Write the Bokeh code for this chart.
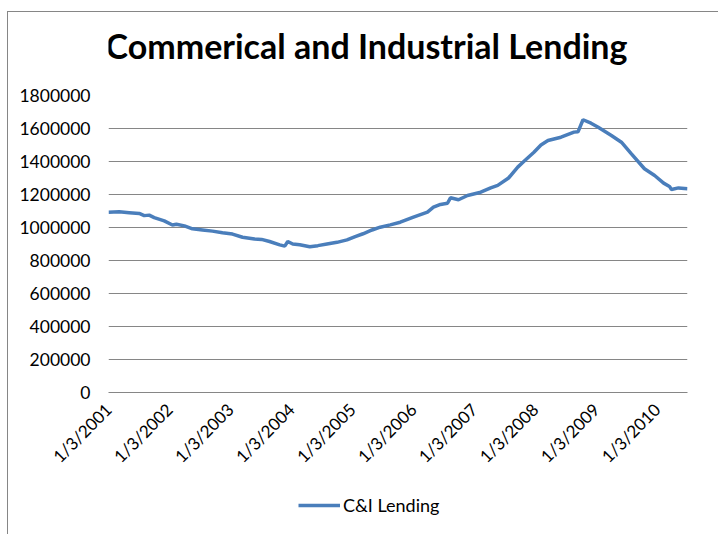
from math import pi
import pandas as pd
from bokeh.plotting import figure
from bokeh.layouts import column
from bokeh.models import Range1d, FixedTicker, Label, Legend, LegendItem, BasicTickFormatter
from bokeh.embed import file_html
from bokeh.resources import INLINE

title_text = "Commerical and Industrial Lending"
series_name = "C&I Lending"

dates = [
    "2001-01-03", "2001-03-08", "2001-05-07", "2001-07-06", "2001-08-05", "2001-09-04",
    "2001-10-04", "2001-12-03", "2002-01-21", "2002-02-14", "2002-04-03", "2002-05-21",
    "2002-07-20", "2002-09-18", "2002-11-17", "2003-01-16", "2003-03-17", "2003-05-28",
    "2003-07-09", "2003-08-26", "2003-10-26", "2003-11-25", "2003-12-13", "2004-01-12",
    "2004-02-23", "2004-04-23", "2004-06-10", "2004-08-04", "2004-10-03", "2004-12-02",
    "2005-01-20", "2005-03-08", "2005-05-01", "2005-06-19", "2005-08-18", "2005-10-17",
    "2006-01-04", "2006-03-29", "2006-05-04", "2006-06-15", "2006-07-27", "2006-08-14",
    "2006-10-01", "2006-11-24", "2007-02-11", "2007-04-12", "2007-05-24", "2007-07-28",
    "2007-09-21", "2007-10-27", "2007-12-27", "2008-02-07", "2008-03-20", "2008-06-06",
    "2008-08-23", "2008-09-16", "2008-10-16", "2008-12-03", "2009-01-15", "2009-04-04",
    "2009-06-03", "2009-08-02", "2009-10-19", "2009-12-19", "2010-02-11", "2010-03-18",
    "2010-03-30", "2010-05-11", "2010-07-04",
]
values = [
    1093000, 1095000, 1090000, 1085000, 1072000, 1075000,
    1060000, 1040000, 1015000, 1020000, 1010000, 992000,
    985000, 978000, 968000, 960000, 941000, 930000,
    928000, 915000, 895000, 887000, 915000, 900000,
    895000, 883000, 890000, 900000, 910000, 925000,
    945000, 962000, 985000, 1002000, 1016000, 1032000,
    1063000, 1093000, 1123000, 1140000, 1147000, 1180000,
    1168000, 1194000, 1214000, 1240000, 1255000, 1300000,
    1366000, 1400000, 1456000, 1500000, 1527000, 1547000,
    1578000, 1580000, 1653000, 1632000, 1608000, 1558000,
    1517000, 1446000, 1356000, 1315000, 1269000, 1249000,
    1230000, 1240000, 1235000,
]

tick_dates = ["2001-01-03", "2002-01-03", "2003-01-03", "2004-01-03", "2005-01-03",
              "2006-01-03", "2007-01-03", "2008-01-03", "2009-01-03", "2010-01-03"]
tick_labels = ["1/3/2001", "1/3/2002", "1/3/2003", "1/3/2004", "1/3/2005",
               "1/3/2006", "1/3/2007", "1/3/2008", "1/3/2009", "1/3/2010"]
y_ticks = [0, 200000, 400000, 600000, 800000, 1000000, 1200000, 1400000, 1600000, 1800000]

FONT = "Lato"
LINE_COLOR = "#4A7EBB"
GRID = "#868686"
W = 710


def blank(height):
    f = figure(width=W, height=height, x_range=Range1d(0, 1), y_range=Range1d(0, 1),
               x_axis_location=None, y_axis_location=None,
               output_backend="svg", toolbar_location=None,
               min_border=0, min_border_left=0, min_border_right=0,
               min_border_top=0, min_border_bottom=0)
    f.outline_line_color = None
    f.xgrid.grid_line_color = None
    f.ygrid.grid_line_color = None
    return f


x = pd.to_datetime(dates)
tick_ms = [float(pd.Timestamp(d).value // 10**6) for d in tick_dates]

# --- title strip (its frame is aligned with the main frame by the column) ---
p0 = blank(73)
p0.add_layout(Label(x=258, y=40, x_units="screen", y_units="screen", text=title_text,
                    text_align="center", text_baseline="alphabetic",
                    text_font=FONT, text_font_style="bold", text_font_size="34px",
                    text_color="black"))

# --- main chart ---
p = figure(
    width=W, height=397,
    x_axis_type="datetime",
    x_range=Range1d(x[0], x[-1]),
    y_range=Range1d(0, 1800000),
    output_backend="svg", toolbar_location=None,
    min_border_left=100, min_border_right=31, min_border_top=10, min_border_bottom=90,
)
p.outline_line_color = None
r = p.line(x, values, line_color=LINE_COLOR, line_width=3.5)

p.xaxis.ticker = FixedTicker(ticks=tick_ms)
p.xaxis.major_label_overrides = {t: l for t, l in zip(tick_ms, tick_labels)}
p.xaxis.major_label_orientation = pi / 4
p.xaxis.major_tick_line_color = None
p.xaxis.minor_tick_line_color = None
p.xaxis.axis_line_color = GRID
p.xaxis.major_label_standoff = 8
p.xaxis.major_label_text_font = FONT
p.xaxis.major_label_text_font_size = "17px"
p.xaxis.major_label_text_color = "black"

p.yaxis.ticker = FixedTicker(ticks=y_ticks)
p.yaxis.formatter = BasicTickFormatter(use_scientific=False)
p.yaxis.axis_line_color = None
p.yaxis.major_tick_line_color = None
p.yaxis.minor_tick_line_color = None
p.yaxis.major_tick_out = 0
p.yaxis.major_label_standoff = 18
p.yaxis.major_label_text_font = FONT
p.yaxis.major_label_text_font_size = "17.5px"
p.yaxis.major_label_text_color = "black"

p.xgrid.grid_line_color = None
p.ygrid.grid_line_color = GRID
p.ygrid.ticker = FixedTicker(ticks=y_ticks)

# --- legend strip (series drawn out of view; only its legend entry shows) ---
p2 = blank(52)
r2 = p2.line(x, values, line_color=LINE_COLOR, line_width=3.5)
legend = Legend(items=[LegendItem(label=series_name, renderers=[r2])],
                location=(190, 18), orientation="horizontal",
                glyph_width=42, glyph_height=20, label_height=20,
                label_standoff=3, padding=0, margin=0, spacing=0,
                border_line_color=None, background_fill_alpha=0,
                label_text_font=FONT, label_text_font_size="18px", label_text_color="black")
p2.add_layout(legend, "center")

layout = column(p0, p, p2, spacing=0,
                styles={"border-left": "1px solid #868686", "border-top": "1px solid #868686",
                        "margin-left": "7px", "margin-top": "11px"})

open("out.html", "w").write(file_html(layout, INLINE))
